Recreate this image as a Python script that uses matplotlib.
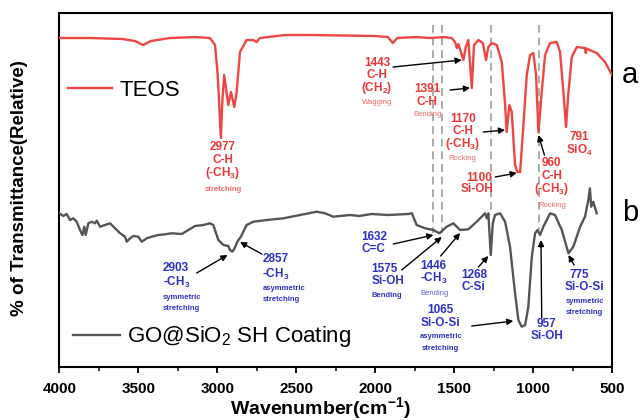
import matplotlib
matplotlib.use('Agg')
import matplotlib.pyplot as plt
from matplotlib.lines import Line2D
from matplotlib.ticker import MultipleLocator

plt.rcParams['font.family'] = ['Liberation Sans', 'DejaVu Sans']
plt.rcParams['mathtext.fontset'] = 'custom'
plt.rcParams['mathtext.rm'] = 'Liberation Sans'
plt.rcParams['mathtext.it'] = 'Liberation Sans:italic'
plt.rcParams['mathtext.bf'] = 'Liberation Sans:bold'

# ---------------- data (relative transmittance, arbitrary units) ----------------
teos_wn = [4000, 3800, 3600, 3520, 3470, 3420, 3300, 3141, 3046, 3014,
           2997, 2977, 2968, 2956, 2930, 2913, 2892, 2877, 2856, 2814,
           2772, 2751, 2730, 2571, 2400, 2200, 2000, 1920, 1888, 1860,
           1750, 1652, 1568, 1515, 1494, 1483, 1473, 1441, 1426, 1410,
           1388, 1374, 1346, 1318, 1298, 1283, 1262, 1230, 1198, 1177,
           1167, 1150, 1135, 1114, 1100, 1082, 1061, 1040, 1019, 998,
           981, 966, 945, 924, 892, 850, 829, 808, 791, 776,
           755, 723, 671, 666, 662, 597, 544, 500]
teos_t = [329, 329, 328, 326, 322, 326, 329, 330, 329, 322,
          292, 229, 265, 292, 262, 275, 260, 275, 315, 327,
          327, 325, 329, 332, 332, 331.5, 331, 330, 324, 329,
          330, 329, 330, 329, 325, 319, 323, 307, 320, 327,
          279, 322, 327, 324, 307, 320, 324, 322, 305, 262,
          235, 262, 255, 202, 195, 195, 242, 292, 312, 314,
          292, 235, 275, 312, 324, 325, 315, 275, 240, 275,
          310, 320, 319, 314, 318.5, 314, 305, 292]

go_wn = [4000, 3975, 3953, 3932, 3911, 3890, 3869, 3854, 3842, 3833,
         3816, 3795, 3774, 3763, 3742, 3711, 3679, 3647, 3615, 3584,
         3573, 3552, 3531, 3500, 3478, 3446, 3415, 3373, 3331, 3288,
         3225, 3183, 3141, 3088, 3046, 3025, 2993, 2961, 2930, 2919,
         2904, 2890, 2873, 2850, 2814, 2771, 2687, 2581, 2476, 2370,
         2317, 2265, 2159, 2100, 2022, 1916, 1790, 1768, 1737, 1684,
         1631, 1593, 1547, 1505, 1462, 1410, 1357, 1315, 1304, 1293,
         1283, 1268, 1255, 1241, 1209, 1177, 1146, 1114, 1093, 1072,
         1050, 1030, 1008, 987, 972, 956, 935, 892, 861, 818,
         776, 745, 702, 671, 650, 640, 632, 619, 597]
go_t = [153.7, 151, 153, 147, 148.7, 145.3, 137, 132, 140.3, 132,
        143.7, 145.3, 143.7, 146.3, 140.3, 142, 143.7, 138.7, 133.7, 130.3,
        125.3, 128.7, 131, 130.3, 125.3, 128.7, 130.3, 132, 132.7, 133.7,
        133, 137, 141, 142, 143.7, 142, 127, 122, 121, 117,
        115.3, 118.7, 125.3, 130.3, 142, 145.3, 147, 148.7, 152, 155.3,
        153.7, 150.3, 152, 151, 153, 152, 153, 153.7, 142, 138.7,
        137, 133.7, 140.3, 143.7, 137, 137.7, 145.3, 152, 153.7, 148.7,
        153.7, 112, 143.7, 152, 153.7, 145.3, 120.3, 73.7, 47, 40.3,
        42, 60.3, 110.3, 133.7, 137, 132, 140.3, 153.7, 152, 137,
        113.7, 120.3, 140.3, 150.3, 167, 178.7, 160.3, 165.3, 153.7]

series_labels = ['TEOS', 'GO@SiO$_2$ SH Coating']
ref_lines_wn = [1632, 1575, 1268, 960]
x_ticks = [4000, 3500, 3000, 2500, 2000, 1500, 1000, 500]

# ---------------- styles ----------------
RED = '#f04545'
RED_TXT = '#ee3636'
RED_LIGHT = '#f26a6a'
BLUE = '#3030c8'
BLUE_LIGHT = '#6060d8'
GREY = '#555555'
BIG = 8.5
SMALL = 5.5

fig = plt.figure(figsize=(6.42, 4.20), dpi=100)
ax = fig.add_axes([0.0924, 0.1262, 0.8609, 0.8428])

ax.plot(teos_wn, teos_t, color=RED, lw=1.7, zorder=3)
ax.plot(go_wn, go_t, color=GREY, lw=1.7, zorder=3)

# dashed reference lines
ref_bottoms = [134, 134, 152, 137]
for wn, vb in zip(ref_lines_wn, ref_bottoms):
    ax.plot([wn, wn], [342, vb], ls=(0, (4, 2.5)), color='#ababab', lw=1.4, zorder=2)

ax.set_xlim(4000, 500)
ax.set_ylim(0, 354)
ax.set_xticks(x_ticks)
ax.xaxis.set_minor_locator(MultipleLocator(250))
ax.set_yticks([])
ax.tick_params(axis='x', which='major', direction='out', length=4.5, width=1.3,
               labelsize=11, pad=6)
ax.tick_params(axis='x', which='minor', direction='out', length=3, width=1.1)
for lab in ax.get_xticklabels():
    lab.set_fontweight('bold')
for sp in ax.spines.values():
    sp.set_linewidth(1.5)

ax.set_xlabel('Wavenumber(cm$^{\\mathbf{-1}}$)', fontsize=14, fontweight='bold')
ax.xaxis.set_label_coords(0.473, -0.078)
ax.set_ylabel('% of Transmittance(Relative)', fontsize=13.5, fontweight='bold')
ax.yaxis.set_label_coords(-0.057, 0.505)

# legends
leg1 = ax.legend([Line2D([], [], color=RED, lw=1.7)], [series_labels[0]],
                 loc='center left', bbox_to_anchor=(0.0157, 0.782), frameon=False,
                 fontsize=16, handlelength=2.0, handletextpad=0.3,
                 borderpad=0, borderaxespad=0)
ax.add_artist(leg1)
ax.legend([Line2D([], [], color=GREY, lw=1.7)], [series_labels[1]],
          loc='center left', bbox_to_anchor=(0.0240, 0.085), frameon=False,
          fontsize=16, handlelength=2.15, handletextpad=0.3,
          borderpad=0, borderaxespad=0)

ax.text(1.033, 0.825, 'a', transform=ax.transAxes, fontsize=21,
        ha='center', va='center', clip_on=False)
ax.text(1.033, 0.435, 'b', transform=ax.transAxes, fontsize=21,
        ha='center', va='center', clip_on=False)

CH3 = '(-CH$_\\mathbf{3}$)'
mCH3 = '-CH$_\\mathbf{3}$'
# (text, wn, value, size, weight, color, ha)
labels = [
    ('2977', 2963, 220, BIG, 'bold', RED_TXT, 'center'),
    ('C-H', 2963, 207, BIG, 'bold', RED_TXT, 'center'),
    (CH3, 2963, 194, BIG, 'bold', RED_TXT, 'center'),
    ('stretching', 2963, 178, SMALL, 'bold', RED_LIGHT, 'center'),
    ('1443', 1989, 304, BIG, 'bold', RED_TXT, 'center'),
    ('C-H', 1989, 292, BIG, 'bold', RED_TXT, 'center'),
    ('(CH$_\\mathbf{2}$)', 1989, 279, BIG, 'bold', RED_TXT, 'center'),
    ('Wagging', 1989, 265, SMALL, 'normal', RED_LIGHT, 'center'),
    ('1391', 1669, 278, BIG, 'bold', RED_TXT, 'center'),
    ('C-H', 1669, 265, BIG, 'bold', RED_TXT, 'center'),
    ('Bending', 1669, 253, SMALL, 'normal', RED_LIGHT, 'center'),
    ('1170', 1445, 248, BIG, 'bold', RED_TXT, 'center'),
    ('C-H', 1445, 236, BIG, 'bold', RED_TXT, 'center'),
    (CH3, 1445, 223, BIG, 'bold', RED_TXT, 'center'),
    ('Rocking', 1445, 209, SMALL, 'normal', RED_LIGHT, 'center'),
    ('1100', 1340, 189, BIG, 'bold', RED_TXT, 'center'),
    ('Si-OH', 1357, 178, BIG, 'bold', RED_TXT, 'center'),
    ('960', 881, 204, BIG, 'bold', RED_TXT, 'center'),
    ('C-H', 881, 191.5, BIG, 'bold', RED_TXT, 'center'),
    (CH3, 881, 178, BIG, 'bold', RED_TXT, 'center'),
    ('Rocking', 881, 162, SMALL, 'normal', RED_LIGHT, 'center'),
    ('791', 707, 230, BIG, 'bold', RED_TXT, 'center'),
    ('SiO$_\\mathbf{4}$', 707, 217, BIG, 'bold', RED_TXT, 'center'),
    ('2903', 3343, 99, BIG, 'bold', BLUE, 'left'),
    (mCH3, 3343, 85, BIG, 'bold', BLUE, 'left'),
    ('symmetric', 3343, 70, SMALL, 'bold', BLUE, 'left'),
    ('stretching', 3343, 59, SMALL, 'bold', BLUE, 'left'),
    ('2857', 2714, 108, BIG, 'bold', BLUE, 'left'),
    (mCH3, 2714, 93, BIG, 'bold', BLUE, 'left'),
    ('asymmetric', 2714, 79, SMALL, 'bold', BLUE, 'left'),
    ('stretching', 2714, 68, SMALL, 'bold', BLUE, 'left'),
    ('1632', 2085, 130, BIG, 'bold', BLUE, 'left'),
    ('C=C', 2085, 118, BIG, 'bold', BLUE, 'left'),
    ('1575', 2022, 98, BIG, 'bold', BLUE, 'left'),
    ('Si-OH', 2022, 86, BIG, 'bold', BLUE, 'left'),
    ('Bending', 2022, 72, SMALL, 'bold', BLUE, 'left'),
    ('1446', 1716, 101, BIG, 'bold', BLUE, 'left'),
    (mCH3, 1716, 89, BIG, 'bold', BLUE, 'left'),
    ('Bending', 1716, 74, SMALL, 'normal', BLUE_LIGHT, 'left'),
    ('1268', 1452, 92, BIG, 'bold', BLUE, 'left'),
    ('C-Si', 1452, 80, BIG, 'bold', BLUE, 'left'),
    ('1065', 1590, 57, BIG, 'bold', BLUE, 'center'),
    ('Si-O-Si', 1585, 44, BIG, 'bold', BLUE, 'center'),
    ('asymmetric', 1585, 30, SMALL, 'bold', BLUE, 'center'),
    ('stretching', 1585, 18, SMALL, 'bold', BLUE, 'center'),
    ('957', 913, 43, BIG, 'bold', BLUE, 'center'),
    ('Si-OH', 913, 31, BIG, 'bold', BLUE, 'center'),
    ('775', 704, 92, BIG, 'bold', BLUE, 'center'),
    ('Si-O-Si', 673, 80, BIG, 'bold', BLUE, 'center'),
    ('symmetric', 673, 66, SMALL, 'bold', BLUE, 'center'),
    ('stretching', 673, 54, SMALL, 'bold', BLUE, 'center'),
]
for txt, wn, v, sz, wt, col, ha in labels:
    ax.text(wn, v, txt, fontsize=sz, fontweight=wt, color=col, ha=ha,
            va='center', zorder=5)

# arrows: (tail wn, tail value, tip wn, tip value)
arrows = [
    (1887, 300, 1452, 307), (1526, 277, 1399, 279), (1315, 235, 1177, 237),
    (1240, 190, 1103, 194), (928, 212, 966, 232),
    (3130, 94, 2935, 112), (2718, 113, 2856, 125), (1885, 123, 1631, 132),
    (1832, 97, 1578, 130), (1585, 111, 1462, 134), (1346, 100, 1283, 111),
    (1388, 41, 1125, 46), (945, 49, 950, 127), (740, 102, 776, 112),
]
for x0, y0, x1, y1 in arrows:
    ax.annotate('', xy=(x1, y1), xytext=(x0, y0),
                arrowprops=dict(arrowstyle='-|>', color='black', lw=1.0,
                                mutation_scale=9, shrinkA=0, shrinkB=0),
                zorder=6)

fig.savefig('out.png', dpi=100)
